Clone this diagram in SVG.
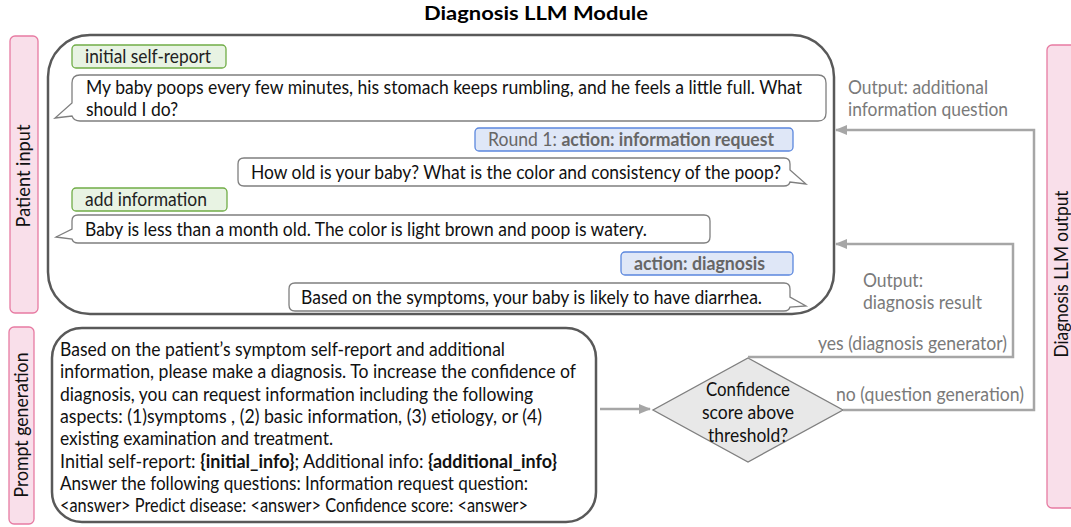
<svg xmlns="http://www.w3.org/2000/svg" width="1071" height="527" viewBox="0 0 1071 527">
  <defs>
    <style>
      text { font-family: Lato, "Liberation Sans", sans-serif; font-size: 18.5px; }
      .title { font-weight: bold; font-size: 18px; fill: #000; }
      .side { fill: #f9dfea; stroke: #e77ba2; stroke-width: 1.3; }
      .sidetxt { fill: #111; }
      .panel { fill: #fff; stroke: #595959; stroke-width: 2.5; }
      .bubble { fill: #fff; stroke: #7f7f7f; stroke-width: 1.3; }
      .tag-user { fill: #e8f3e3; stroke: #70ad47; stroke-width: 1.3; }
      .tag-llm { fill: #dfe7f7; stroke: #5b87de; stroke-width: 1.3; }
      .msg { fill: #111; }
      .tagtxt { fill: #222; }
      .llmtxt { fill: #666; }
      .b { font-weight: bold; }
      .flow { fill: none; stroke: #a6a6a6; stroke-width: 2.5; }
      .flowtxt { fill: #7a7a7a; }
      .decision { fill: #e8e8e8; stroke: #7f7f7f; stroke-width: 1.3; }
    </style>
    <marker id="arrow" viewBox="0 0 12 10" refX="11" refY="5" markerWidth="12" markerHeight="10" markerUnits="userSpaceOnUse" orient="auto">
      <path d="M0,0 L12,5 L0,10 Z" fill="#a6a6a6"/>
    </marker>
  </defs>

  <rect width="1071" height="527" fill="#fff"/>

  <text class="title" x="536" y="20" text-anchor="middle" textLength="224" lengthAdjust="spacingAndGlyphs">Diagnosis LLM Module</text>

  <!-- side labels -->
  <g id="patient-input">
    <rect class="side" x="10" y="36" width="28" height="277" rx="5"/>
    <text class="sidetxt" transform="translate(30,176) rotate(-90)" text-anchor="middle" textLength="103" lengthAdjust="spacingAndGlyphs">Patient input</text>
  </g>
  <g id="prompt-generation">
    <rect class="side" x="9" y="327" width="25" height="197" rx="5"/>
    <text class="sidetxt" transform="translate(28,425) rotate(-90)" text-anchor="middle" textLength="145" lengthAdjust="spacingAndGlyphs">Prompt generation</text>
  </g>
  <g id="llm-output">
    <rect class="side" x="1047" y="45" width="30" height="463" rx="5"/>
    <text class="sidetxt" transform="translate(1068,274) rotate(-90)" text-anchor="middle" textLength="167" lengthAdjust="spacingAndGlyphs">Diagnosis LLM output</text>
  </g>

  <!-- dialogue panel -->
  <g id="dialogue">
    <rect class="panel" x="48" y="35" width="786" height="279" rx="42"/>

    <g id="tag-initial">
      <rect class="tag-user" x="72" y="45" width="154" height="23" rx="4"/>
      <text class="tagtxt" x="85" y="63" textLength="126" lengthAdjust="spacingAndGlyphs">initial self-report</text>
    </g>

    <g id="msg-report">
      <path class="bubble" d="M80,75 H818 Q826,75 826,83 V113 Q826,121 818,121 H80 Q74,121 72,116 L55,118 L72,103 V83 Q72,75 80,75 Z"/>
      <text class="msg" x="86" y="94" textLength="716" lengthAdjust="spacingAndGlyphs">My baby poops every few minutes, his stomach keeps rumbling, and he feels a little full. What</text>
      <text class="msg" x="86" y="116" textLength="92" lengthAdjust="spacingAndGlyphs">should I do?</text>
    </g>

    <g id="tag-round1">
      <rect class="tag-llm" x="475" y="128" width="318" height="23" rx="4"/>
      <text class="llmtxt" x="488" y="146" textLength="286" lengthAdjust="spacingAndGlyphs">Round 1: <tspan class="b">action: information request</tspan></text>
    </g>

    <g id="msg-question">
      <path class="bubble" d="M244,158 H784 Q790,158 790,164 V170 L806,184 L790,182 Q789,186 784,186 H244 Q238,186 238,180 V164 Q238,158 244,158 Z"/>
      <text class="msg" x="251" y="179" textLength="530" lengthAdjust="spacingAndGlyphs">How old is your baby? What is the color and consistency of the poop?</text>
    </g>

    <g id="tag-add">
      <rect class="tag-user" x="72" y="188" width="155" height="23" rx="4"/>
      <text class="tagtxt" x="85" y="206" textLength="122" lengthAdjust="spacingAndGlyphs">add information</text>
    </g>

    <g id="msg-answer">
      <path class="bubble" d="M78,215 H704 Q710,215 710,221 V237 Q710,243 704,243 H78 Q73,243 72,239 L56,237 L72,229 V221 Q72,215 78,215 Z"/>
      <text class="msg" x="85" y="236" textLength="562" lengthAdjust="spacingAndGlyphs">Baby is less than a month old. The color is light brown and poop is watery.</text>
    </g>

    <g id="tag-diagnosis">
      <rect class="tag-llm" x="621" y="252" width="172" height="23" rx="4"/>
      <text class="llmtxt b" x="634" y="270" textLength="131" lengthAdjust="spacingAndGlyphs">action: diagnosis</text>
    </g>

    <g id="msg-result">
      <path class="bubble" d="M295,283 H784 Q790,283 790,289 V297 L806,306 L790,307 Q789,311 784,311 H295 Q289,311 289,305 V289 Q289,283 295,283 Z"/>
      <text class="msg" x="301" y="304" textLength="461" lengthAdjust="spacingAndGlyphs">Based on the symptoms, your baby is likely to have diarrhea.</text>
    </g>
  </g>

  <!-- prompt panel -->
  <g id="prompt">
    <rect class="panel" x="52" y="328" width="544" height="194" rx="30"/>
    <text class="msg" x="60" y="356" textLength="445" lengthAdjust="spacingAndGlyphs">Based on the patient’s symptom self-report and additional</text>
    <text class="msg" x="60" y="378" textLength="516" lengthAdjust="spacingAndGlyphs">information, please make a diagnosis. To increase the confidence of</text>
    <text class="msg" x="60" y="401" textLength="473" lengthAdjust="spacingAndGlyphs">diagnosis, you can request information including the following</text>
    <text class="msg" x="60" y="423" textLength="482" lengthAdjust="spacingAndGlyphs">aspects: (1)symptoms , (2) basic information, (3) etiology, or (4)</text>
    <text class="msg" x="60" y="445" textLength="273" lengthAdjust="spacingAndGlyphs">existing examination and treatment.</text>
    <text class="msg" x="60" y="468" textLength="497" lengthAdjust="spacingAndGlyphs">Initial self-report: <tspan class="b">{initial_info}</tspan>; Additional info: <tspan class="b">{additional_info}</tspan></text>
    <text class="msg" x="60" y="490" textLength="468" lengthAdjust="spacingAndGlyphs">Answer the following questions: Information request question:</text>
    <text class="msg" x="60" y="512" textLength="468" lengthAdjust="spacingAndGlyphs">&lt;answer&gt; Predict disease: &lt;answer&gt; Confidence score: &lt;answer&gt;</text>
  </g>

  <!-- decision -->
  <g id="confidence-check">
    <polygon class="decision" points="748,358 843,410 748,462 653,410"/>
    <text class="msg" x="748" y="396" text-anchor="middle" textLength="84" lengthAdjust="spacingAndGlyphs">Confidence</text>
    <text class="msg" x="748" y="419" text-anchor="middle" textLength="92" lengthAdjust="spacingAndGlyphs">score above</text>
    <text class="msg" x="748" y="442" text-anchor="middle" textLength="80" lengthAdjust="spacingAndGlyphs">threshold?</text>
  </g>

  <!-- connectors -->
  <g id="connectors">
    <line class="flow" x1="600" y1="409" x2="650" y2="409" marker-end="url(#arrow)"/>
    <polyline class="flow" points="748,357 1013,357 1013,244 836,244" marker-end="url(#arrow)"/>
    <polyline class="flow" points="843,410 1034,410 1034,130 836,130" marker-end="url(#arrow)"/>
    <text class="flowtxt" x="848" y="94" textLength="140" lengthAdjust="spacingAndGlyphs">Output: additional</text>
    <text class="flowtxt" x="848" y="116" textLength="160" lengthAdjust="spacingAndGlyphs">information question</text>
    <text class="flowtxt" x="863" y="287" textLength="60" lengthAdjust="spacingAndGlyphs">Output:</text>
    <text class="flowtxt" x="863" y="309" textLength="119" lengthAdjust="spacingAndGlyphs">diagnosis result</text>
    <text class="flowtxt" x="818" y="350" textLength="189" lengthAdjust="spacingAndGlyphs">yes (diagnosis generator)</text>
    <text class="flowtxt" x="836" y="401" textLength="188" lengthAdjust="spacingAndGlyphs">no (question generation)</text>
  </g>
</svg>
